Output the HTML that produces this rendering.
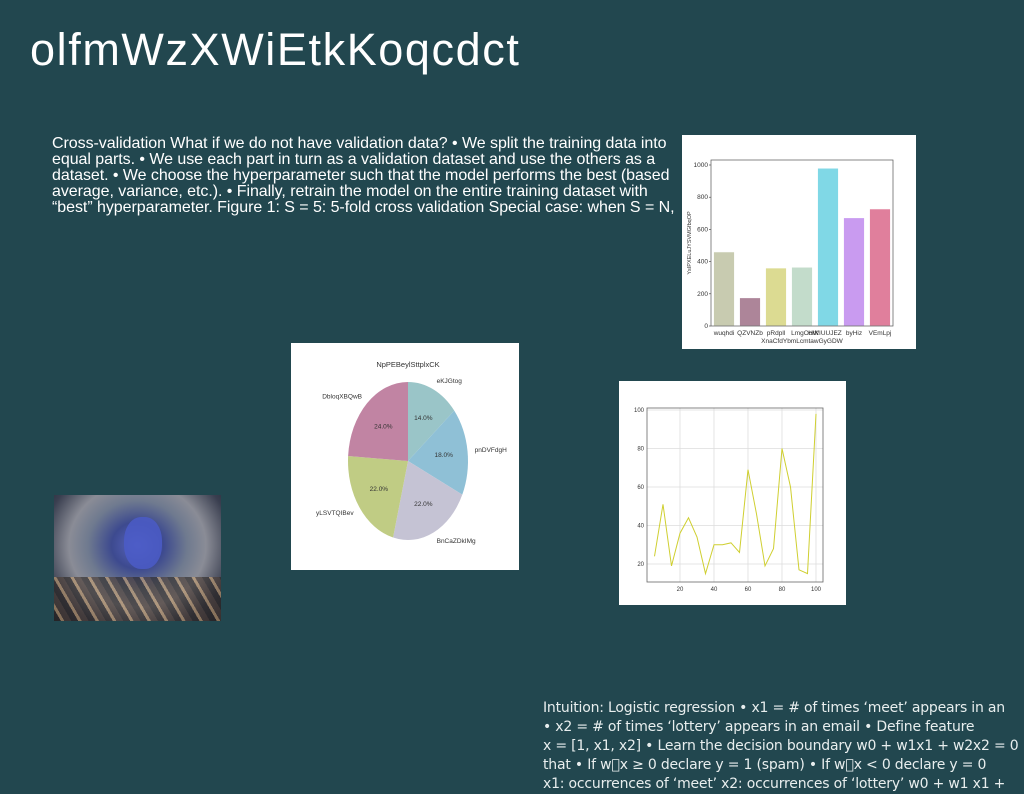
<!DOCTYPE html>
<html><head><meta charset="utf-8"><style>
body{margin:0;width:1024px;height:788px;background:#22474f;overflow:hidden;position:relative;font-family:"Liberation Sans",sans-serif}
.abs{position:absolute}
#title{left:30px;top:24px;font-size:45px;color:#fff;letter-spacing:1.6px}
#body{left:52px;top:136px;font-size:16px;line-height:16px;color:#fff;letter-spacing:-0.05px;white-space:nowrap}
#bottom{left:543px;top:699px;font-family:"DejaVu Sans",sans-serif;font-size:14px;line-height:19px;color:#e8eeee;white-space:nowrap;letter-spacing:-0.2px}
.card{background:#fff}
</style></head><body>
<div id="title" class="abs">olfmWzXWiEtkKoqcdct</div>
<div id="body" class="abs">Cross-validation What if we do not have validation data? • We split the training data into<br>equal parts. • We use each part in turn as a validation dataset and use the others as a<br>dataset. • We choose the hyperparameter such that the model performs the best (based<br>average, variance, etc.). • Finally, retrain the model on the entire training dataset with<br>“best” hyperparameter. Figure 1: S = 5: 5-fold cross validation Special case: when S = N,</div>

<svg class="abs card" style="left:682px;top:135px" width="234" height="214" id="bar"></svg>
<svg class="abs card" style="left:291px;top:343px" width="228" height="227" id="pie"></svg>
<svg class="abs card" style="left:619px;top:381px" width="227" height="224" id="line"></svg>

<div class="abs" style="left:54px;top:495px;width:167px;height:126px;background:radial-gradient(ellipse at 50% 40%,#5a66c0 0%,#3d4a8f 22%,#6f7a8f 42%,#8a8c96 58%,#3a3f50 80%,#1d2230 100%)">
<div class="abs" style="left:0;top:82px;width:167px;height:44px;background:repeating-linear-gradient(60deg,#2a2420 0 6px,#c8a070 6px 9px,#4a3a30 9px 15px);opacity:.6"></div>
<div class="abs" style="left:70px;top:22px;width:38px;height:52px;border-radius:45%;background:#4b5cc8;opacity:.85"></div>
</div>

<div id="bottom" class="abs">Intuition: Logistic regression • x1 = # of times ‘meet’ appears in an<br>• x2 = # of times ‘lottery’ appears in an email • Define feature<br>x = [1, x1, x2] • Learn the decision boundary w0 + w1x1 + w2x2 = 0<br>that • If w⃞x ≥ 0 declare y = 1 (spam) • If w⃞x &lt; 0 declare y = 0<br>x1: occurrences of ‘meet’ x2: occurrences of ‘lottery’ w0 + w1 x1 +</div>

<script>
const NS="http://www.w3.org/2000/svg";
function mk(p,t,a,txt){const e=document.createElementNS(NS,t);for(const k in a)e.setAttribute(k,a[k]);if(txt!==undefined)e.textContent=txt;p.appendChild(e);return e;}

// ---- bar chart data
const barCats=["wuqhdi","QZVNZb","pRdpll","LmgOorK","HWIUUJEZ","byHiz","VEmLpj"];
const barVals=[460,175,360,365,980,672,727];
const barColors=["#c8cbb0","#ad8599","#dcdb92","#c3dccb","#80d8e6","#c99bf0","#e07f9c"];
const barTicks=[0,200,400,600,800,1000];
(function(){
 const s=document.getElementById('bar');
 const L=29,R=211,T=25,B=191;
 const y=v=>B-(v/1000)*(B-30);
 const bw=(R-L)/barCats.length;
 barVals.forEach((v,i)=>{
  const r=mk(s,'rect',{x:L+bw*i+bw*0.1,y:y(v),width:bw*0.8,height:B-y(v),fill:barColors[i],stroke:'#fff','stroke-width':0.6});
  
  
  const t=mk(s,'text',{x:L+bw*(i+0.5)+(i==3?3:(i==4?-3:0)),y:B+9,'font-size':6.5,'text-anchor':'middle',fill:'#333'},barCats[i]);
  
  
 });
 barTicks.forEach(v=>{
  mk(s,'line',{x1:L-2,x2:L,y1:y(v),y2:y(v),stroke:'#333','stroke-width':0.6});
  const t=mk(s,'text',{x:L-3,y:y(v)+2,'font-size':6.5,'text-anchor':'end',fill:'#333'},v);
  
  
 });
 mk(s,'rect',{x:L,y:T,width:R-L,height:B-T,fill:'none',stroke:'#555','stroke-width':0.7});
 const xl=mk(s,'text',{x:(L+R)/2,y:208,'font-size':6.5,'text-anchor':'middle',fill:'#333'},'XnaCfdYbmLcmtawGyGDW');
 
 
 const yl=mk(s,'text',{x:0,y:0,'font-size':5.5,'text-anchor':'middle',fill:'#333',transform:`translate(9,${(T+B)/2}) rotate(-90)`},'YsIPXELuJYSVMGfbqOP');
 
 
})();

// ---- pie data
const pieLabels=["eKJGtog","pnDVFdgH","BnCaZDkIMg","yLSVTQIBev","DbloqXBQwB"];
const pieVals=[14,18,22,22,24];
const pieColors=["#9ac5c8","#8fc0d6","#c5c3d4","#c0cc84","#c184a3"];
(function(){
 const s=document.getElementById('pie');
 const cx=117,cy=118,rx=60,ry=79;
 const t=mk(s,'text',{x:cx,y:24,'font-size':7.5,'text-anchor':'middle',fill:'#333'},'NpPEBeylSttplxCK');
 
 
 const tot=pieVals.reduce((a,b)=>a+b,0);
 let a0=0;
 pieVals.forEach((v,i)=>{
  const a1=a0+v/tot*2*Math.PI;
  const P=(a,f)=>[cx+rx*f*Math.sin(a),cy-ry*f*Math.cos(a)];
  const p0=P(a0,1),p1=P(a1,1);
  const large=(a1-a0)>Math.PI?1:0;
  const path=mk(s,'path',{d:`M${cx},${cy} L${p0[0]},${p0[1]} A${rx},${ry} 0 ${large} 1 ${p1[0]},${p1[1]} Z`,fill:pieColors[i]});
  
  
  const m=(a0+a1)/2;
  const pc=P(m,0.6);
  const pt=mk(s,'text',{x:pc[0],y:pc[1]+2,'font-size':6.5,'text-anchor':'middle',fill:'#333'},v.toFixed(1)+'%');
  
  
  const pl=P(m,1.12);
  const lt=mk(s,'text',{x:pl[0],y:pl[1]+2,'font-size':6.5,'text-anchor':Math.sin(m)>0?'start':'end',fill:'#333'},pieLabels[i]);
  
  
  a0=a1;
 });
})();

// ---- line data
const lineX=[5,10,15,20,25,30,35,40,45,50,55,60,65,70,75,80,85,90,95,100];
const lineY=[24,51,19,36,44,34,15,30,30,31,26,69,46,19,28,80,60,17,15,98];
const xTicks=[20,40,60,80,100];
const yTicks=[20,40,60,80,100];
(function(){
 const s=document.getElementById('line');
 const L=28,R=204,T=27,B=201;
 const x=v=>61+(v-20)*(136/80);
 const y=v=>183-(v-20)*(154/80);
 xTicks.forEach(v=>{
  mk(s,'line',{x1:x(v),x2:x(v),y1:T,y2:B,stroke:'#ddd','stroke-width':0.8});
  const t=mk(s,'text',{x:x(v),y:B+9,'font-size':6,'text-anchor':'middle',fill:'#333'},v);
  
  
 });
 yTicks.forEach(v=>{
  mk(s,'line',{x1:L,x2:R,y1:y(v),y2:y(v),stroke:'#ddd','stroke-width':0.8});
  const t=mk(s,'text',{x:L-3,y:y(v)+2,'font-size':6,'text-anchor':'end',fill:'#333'},v);
  
  
 });
 const pl=mk(s,'polyline',{points:lineX.map((v,i)=>x(v)+','+y(lineY[i])).join(' '),fill:'none',stroke:'#cfcf30','stroke-width':1});
 
 
 mk(s,'rect',{x:L,y:T,width:R-L,height:B-T,fill:'none',stroke:'#666','stroke-width':0.8});
})();
</script>
</body></html>
